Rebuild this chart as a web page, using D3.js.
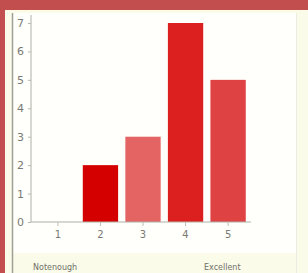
<!DOCTYPE html>
<html><head><meta charset="utf-8">
<script src="https://cdn.jsdelivr.net/npm/d3@7"></script>
<style>body{margin:0;padding:0;}svg{display:block;}</style>
</head><body>
<svg id="c" width="308" height="273"></svg>
<script>
const categories = ["1","2","3","4","5"];
const values = [0, 2, 3, 7, 5];
const barColors = ["#d40000","#d40000","#e46464","#dc2020","#df4242"];
const yTicks = [0,1,2,3,4,5,6,7];
const endLabels = ["Notenough","Excellent"];

const svg = d3.select("#c");
svg.append("rect").attr("width",308).attr("height",273).attr("fill","#c24f4d");
svg.append("rect").attr("x",5).attr("y",10).attr("width",303).attr("height",263).attr("fill","#fbfbea");
svg.append("rect").attr("x",13).attr("y",13).attr("width",283).attr("height",240).attr("fill","#fffffb");
svg.append("line").attr("x1",12.5).attr("x2",12.5).attr("y1",13).attr("y2",273).attr("stroke","#a0a098").attr("stroke-width",1.5);
svg.append("line").attr("x1",296.5).attr("x2",296.5).attr("y1",13).attr("y2",273).attr("stroke","#ecece0").attr("stroke-width",1);

const x = d3.scaleBand().domain(categories).range([36,250]).paddingInner(0.17).paddingOuter(0.1);
const y = d3.scaleLinear().domain([0,7]).range([222,23]);

svg.selectAll("rect.bar").data(values).join("rect").attr("class","bar")
  .attr("x",(d,i)=>x(categories[i])).attr("width",x.bandwidth())
  .attr("y",d=>y(d)).attr("height",d=>y(0)-y(d))
  .attr("fill",(d,i)=>barColors[i]);

const yAxis = svg.append("g").attr("transform","translate(31,0)")
  .call(d3.axisLeft(y).tickValues(yTicks).tickSize(3).tickFormat(d3.format("d")));
yAxis.select(".domain").attr("d","M0,15V222").attr("stroke","#b0b0a8");
yAxis.selectAll(".tick line").attr("stroke","#b8b8b0");
yAxis.selectAll("text").attr("fill","#7a7a74").attr("font-family","DejaVu Sans").attr("font-size",11).attr("x",-7);

const xAxis = svg.append("g").attr("transform","translate(0,222)")
  .call(d3.axisBottom(x).tickSize(4));
xAxis.select(".domain").attr("d","M31,0H251").attr("stroke","#b0b0a8");
xAxis.selectAll(".tick line").attr("stroke","#c0c0b8");
xAxis.selectAll("text").attr("fill","#7a7a74").attr("font-family","DejaVu Sans").attr("font-size",10).attr("y",9);

svg.append("text").attr("x",33).attr("y",270).text(endLabels[0])
  .attr("fill","#707068").attr("font-family","DejaVu Sans").attr("font-size",8);
svg.append("text").attr("x",204).attr("y",270).text(endLabels[1])
  .attr("fill","#707068").attr("font-family","DejaVu Sans").attr("font-size",8);
</script>
</body></html>
